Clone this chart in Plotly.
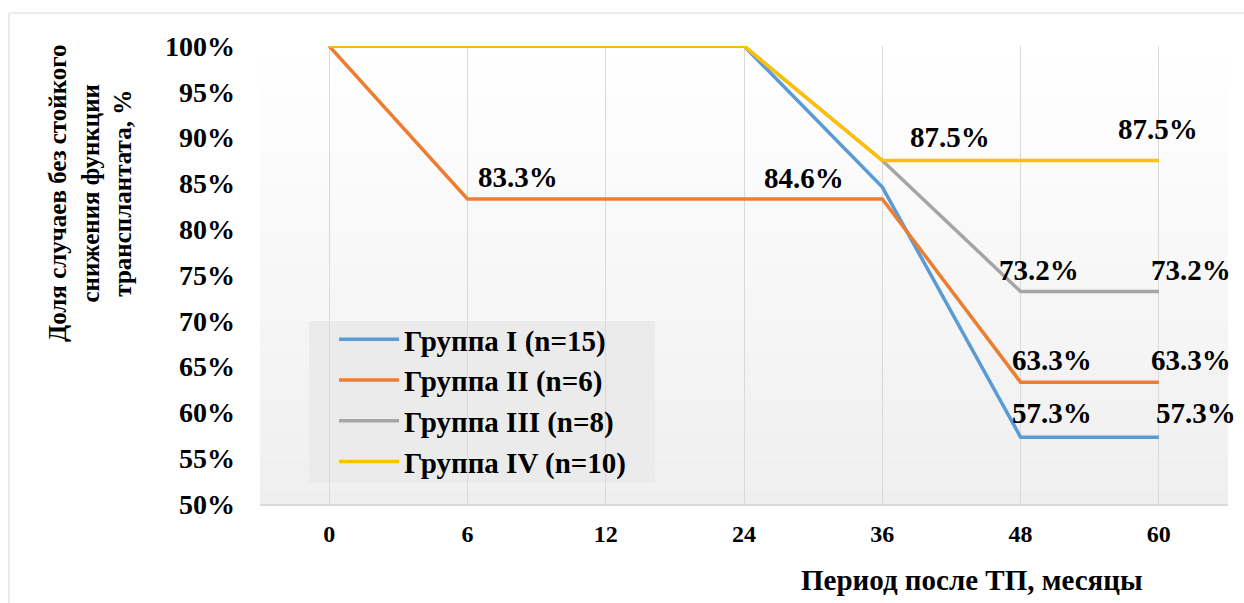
import plotly.graph_objects as go

# ---- data ----
months = ["0", "6", "12", "24", "36", "48", "60"]
group_names = ["Группа I (n=15)", "Группа II (n=6)", "Группа III (n=8)", "Группа IV (n=10)"]
group1 = [100, 100, 100, 100, 84.6, 57.3, 57.3]
group2 = [100, 83.3, 83.3, 83.3, 83.3, 63.3, 63.3]
group3 = [100, 100, 100, 100, 87.5, 73.2, 73.2]
group4 = [100, 100, 100, 100, 87.5, 87.5, 87.5]
y_ticks = [50, 55, 60, 65, 70, 75, 80, 85, 90, 95, 100]
y_ticklabels = [f"{v}%" for v in y_ticks]

series = [group1, group2, group3, group4]
colors = ["#5B9BD5", "#ED7D31", "#A5A5A5", "#FFC000"]
FONT = "Liberation Serif, Times New Roman, serif"

# data labels: (series index, point index, x shift, y shift)
label_spec = [
    (1, 1, 51, 22),
    (0, 4, -78, 9),
    (3, 4, 68, 24),
    (3, 6, -1, 32),
    (2, 5, 18, 21),
    (2, 6, 32, 21),
    (1, 5, 31, 22),
    (1, 6, 32, 22),
    (0, 5, 31, 24),
    (0, 6, 37, 24),
]

fig = go.Figure()
for i, (name, vals, col) in enumerate(zip(group_names, series, colors)):
    fig.add_trace(go.Scatter(
        x=months, y=vals, mode="lines", name=name,
        line=dict(color=col, width=3.5),
        legendgroup=f"g{i}",
    ))

annotations = []
for si, pi, dx, dy in label_spec:
    v = series[si][pi]
    annotations.append(dict(
        x=pi, y=v, xref="x", yref="y", text=f"<b>{v:.1f}%</b>",
        showarrow=False, xshift=dx, yshift=dy,
        xanchor="center", yanchor="middle",
        font=dict(family=FONT, size=29, color="#000000"),
    ))

# axis titles
annotations.append(dict(
    x=-0.1756, y=0.679, xref="paper", yref="paper",
    xanchor="center", yanchor="middle",
    text="<b>Доля случаев без стойкого<br>снижения функции<br>трансплантата, %</b>",
    textangle=-90, showarrow=False,
    font=dict(family=FONT, size=25, color="#000000"),
))
annotations.append(dict(
    x=0.7355, y=-0.166, xref="paper", yref="paper",
    xanchor="center", yanchor="middle",
    text="<b>Период после ТП, месяцы</b>", showarrow=False,
    font=dict(family=FONT, size=29, color="#000000"),
))

# background gradient bands (plot area) + legend box + outer border
shapes = []
n = 30
for k in range(n):
    t = k / (n - 1)
    c = int(round(255 - (255 - 239) * t))
    shapes.append(dict(
        type="rect", xref="paper", yref="paper",
        x0=0, x1=1, y0=1 - (k + 1) / n, y1=1 - k / n,
        fillcolor=f"rgb({c},{c},{c})", line=dict(width=0), layer="below",
    ))
shapes.append(dict(
    type="rect", xref="paper", yref="paper",
    x0=0.0506, x1=0.408, y0=0.0459, y1=0.3996,
    fillcolor="#ebebeb", line=dict(width=0), layer="between",
))
shapes.append(dict(
    type="rect", xref="paper", yref="paper",
    x0=-0.2593, x1=1.03, y0=-0.25, y1=1.072,
    line=dict(color="#d9d9d9", width=1), fillcolor="rgba(0,0,0,0)", layer="below",
))

fig.update_layout(
    width=1244, height=603,
    margin=dict(l=260, r=16, t=46, b=99),
    paper_bgcolor="#ffffff", plot_bgcolor="rgba(0,0,0,0)",
    font=dict(family=FONT, color="#000000"),
    showlegend=True,
    legend=dict(
        x=0.0765, y=0.415, xanchor="left", yanchor="top",
        bgcolor="rgba(0,0,0,0)", borderwidth=0,
        font=dict(family=FONT, size=29, color="#000000", weight="bold"),
        itemwidth=60, tracegroupgap=0,
    ),
    annotations=annotations,
    shapes=shapes,
)
fig.update_xaxes(
    type="category", categoryorder="array", categoryarray=months,
    range=[-0.5, 6.5], showgrid=True, gridcolor="#d9d9d9", gridwidth=1,
    showline=True, linecolor="#d9d9d9", linewidth=1.5,
    ticks="", ticklabelstandoff=7, zeroline=False,
    tickfont=dict(family=FONT, size=24, color="#000000", weight="bold"),
)
fig.update_yaxes(
    range=[50, 100], tickvals=y_ticks, ticktext=y_ticklabels,
    showgrid=False, showline=False, zeroline=False, ticks="",
    ticklabelstandoff=24,
    tickfont=dict(family=FONT, size=28, color="#000000", weight="bold"),
)

fig.write_html("out.html")
